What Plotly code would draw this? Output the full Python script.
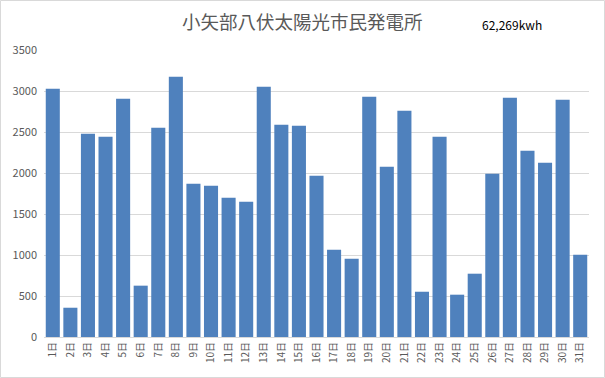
import plotly.graph_objects as go

days = [f"{i}日" for i in range(1, 32)]
generation_kwh = [3028, 357, 2479, 2443, 2906, 626, 2552, 3174, 1869, 1845,
                  1699, 1650, 3052, 2589, 2577, 1967, 1065, 955, 2930, 2077,
                  2760, 552, 2443, 516, 772, 1991, 2918, 2272, 2126, 2894, 1004]
title_text = "小矢部八伏太陽光市民発電所"
total_text = "62,269kwh"
y_ticks = [0, 500, 1000, 1500, 2000, 2500, 3000, 3500]

W, H = 605, 378
ml, mr, mt, mb = 44, 16, 50, 41
pw, ph = W - ml - mr, H - mt - mb

fig = go.Figure(go.Bar(x=days, y=generation_kwh, marker_color="#4F81BD",
                       marker_line_width=0))

font_family = "Noto Sans CJK JP, Noto Sans, sans-serif"
fig.update_layout(
    width=W, height=H,
    margin=dict(l=ml, r=mr, t=mt, b=mb),
    paper_bgcolor="white", plot_bgcolor="white",
    bargap=0.2,
    showlegend=False,
    font=dict(family=font_family, color="#595959", size=11),
    xaxis=dict(tickangle=-90, showgrid=False, showline=True, linecolor="#D9D9D9",
               linewidth=1, ticks="", automargin=False,
               tickfont=dict(size=10, color="#595959")),
    yaxis=dict(range=[0, 3500], tickvals=y_ticks, showgrid=True, gridcolor="#D9D9D9",
               gridwidth=1, zeroline=False, showline=False, ticks="", automargin=False,
               ticklabelstandoff=6, tickfont=dict(size=11, color="#595959")),
    annotations=[
        dict(text=title_text, xref="paper", yref="paper",
             x=(302 - ml) / pw, y=(H - mb - 21) / ph, xanchor="center", yanchor="middle",
             showarrow=False, font=dict(size=18.5, color="#595959", family=font_family)),
        dict(text=total_text, xref="paper", yref="paper",
             x=(512 - ml) / pw, y=(H - mb - 24) / ph, xanchor="center", yanchor="middle",
             showarrow=False, font=dict(size=12, color="#000000", family=font_family)),
    ],
    shapes=[
        dict(type="rect", xref="paper", yref="paper",
             x0=(0.5 - ml) / pw, x1=(W - 0.5 - ml) / pw,
             y0=(H - mb - (H - 0.5)) / ph, y1=(H - mb - 0.5) / ph,
             line=dict(color="#D9D9D9", width=1), fillcolor="rgba(0,0,0,0)", layer="above"),
    ],
)

fig.write_html("out.html", config={"displayModeBar": False},
               post_script="document.body.style.margin='0';document.body.style.padding='0';")
